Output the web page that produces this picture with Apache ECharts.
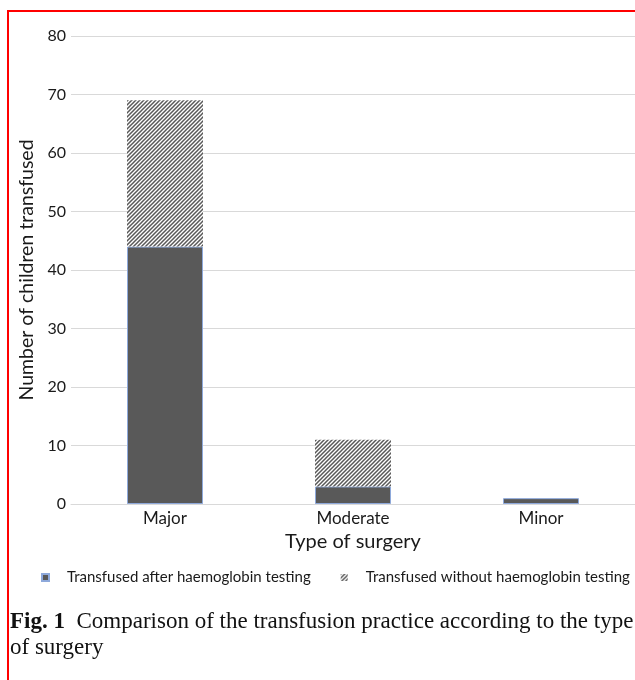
<!DOCTYPE html>
<html>
<head>
<meta charset="utf-8">
<script src="https://cdn.jsdelivr.net/npm/echarts@6/dist/echarts.min.js"></script>
<style>
html,body{margin:0;padding:0;background:#fff;}
#chart{width:635px;height:680px;}
</style>
</head>
<body>
<div id="chart"></div>
<script>
const categories = ['Major', 'Moderate', 'Minor'];
const afterTesting = [44, 3, 1];
const withoutTesting = [25, 8, 0];
const yTicks = [0, 10, 20, 30, 40, 50, 60, 70, 80];
const seriesNames = ['Transfused after haemoglobin testing', 'Transfused without haemoglobin testing'];

// hatch pattern
const pc = document.createElement('canvas');
pc.width = 4; pc.height = 4;
const g = pc.getContext('2d');
g.fillStyle = '#ffffff'; g.fillRect(0, 0, 4, 4);
g.strokeStyle = '#595959'; g.lineWidth = 1.5;
g.beginPath();
g.moveTo(-1, 5); g.lineTo(5, -1);
g.moveTo(-1, 1); g.lineTo(1, -1);
g.moveTo(3, 5); g.lineTo(5, 3);
g.stroke();

const chart = echarts.init(document.getElementById('chart'), null, {renderer: 'canvas'});
const font = 'Lato, "Noto Sans", sans-serif';
chart.setOption({
  animation: false,
  textStyle: {fontFamily: font},
  grid: {left: 71, right: 0, top: 36, bottom: 176, containLabel: false},
  xAxis: {
    type: 'category',
    data: categories,
    axisLine: {show: true, lineStyle: {color: '#d9d9d9', width: 1}},
    axisTick: {show: false},
    axisLabel: {fontSize: 17, color: '#1a1a1a', margin: 6, fontFamily: font},
    name: 'Type of surgery',
    nameLocation: 'middle',
    nameGap: 27,
    nameTextStyle: {fontSize: 20, color: '#1a1a1a', fontFamily: font}
  },
  yAxis: {
    type: 'value',
    min: yTicks[0],
    max: yTicks[yTicks.length - 1],
    interval: yTicks[1] - yTicks[0],
    axisLine: {show: false},
    axisTick: {show: false},
    splitLine: {lineStyle: {color: '#d9d9d9', width: 1}},
    axisLabel: {fontSize: 16, color: '#1a1a1a', margin: 5, fontFamily: font},
    name: 'Number of children transfused',
    nameLocation: 'middle',
    nameRotate: 90,
    nameGap: 33,
    nameTextStyle: {fontSize: 19.5, color: '#1a1a1a', fontFamily: font}
  },
  legend: {
    top: 570,
    left: 41,
    padding: 0,
    itemWidth: 7,
    itemHeight: 7,
    itemGap: 30,
    icon: 'rect',
    textStyle: {fontSize: 15, color: '#1a1a1a', fontFamily: font, padding: [0, 0, 0, 13]},
    data: seriesNames
  },
  series: [
    {
      name: seriesNames[0],
      type: 'bar',
      stack: 'total',
      barWidth: 76,
      data: afterTesting,
      itemStyle: {color: '#595959', borderColor: '#8ea9db', borderWidth: 1}
    },
    {
      name: seriesNames[1],
      type: 'bar',
      stack: 'total',
      barWidth: 76,
      data: withoutTesting,
      itemStyle: {color: {image: pc, repeat: 'repeat'}, borderWidth: 0}
    }
  ],
  graphic: [
    {type: 'rect', shape: {x: 7, y: 10, width: 640, height: 2}, style: {fill: '#ff0000'}, silent: true},
    {type: 'rect', shape: {x: 7, y: 10, width: 2, height: 680}, style: {fill: '#ff0000'}, silent: true},
    {
      type: 'text', left: 10, top: 609,
      style: {
        text: '{b|Fig. 1}  Comparison of the transfusion practice according to the type\nof surgery',
        fontFamily: '"Liberation Serif", serif',
        fontSize: 23,
        lineHeight: 26,
        fill: '#111',
        rich: {b: {fontWeight: 'bold', fontFamily: '"Liberation Serif", serif', fontSize: 23, lineHeight: 26}}
      }
    }
  ]
});
</script>
</body>
</html>
